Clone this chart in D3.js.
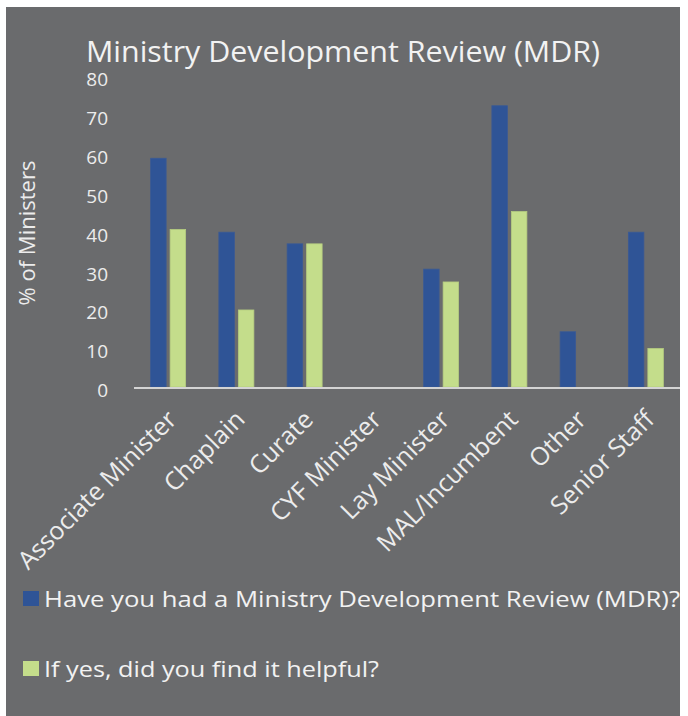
<!DOCTYPE html>
<html>
<head>
<meta charset="utf-8">
<script src="https://cdn.jsdelivr.net/npm/d3@7"></script>
<style>
  html, body { margin: 0; padding: 0; background: #ffffff; }
  svg { display: block; }
  text { font-family: "Open Sans", "Noto Sans", sans-serif; }
</style>
</head>
<body>
<div id="chart"></div>
<script>
const categories = ["Associate Minister", "Chaplain", "Curate", "CYF Minister", "Lay Minister", "MAL/Incumbent", "Other", "Senior Staff"];
const hadMDR = [58.8, 39.8, 36.8, 0, 30.3, 72.3, 14.2, 39.8];
const foundHelpful = [40.5, 19.8, 36.8, 0, 27.0, 45.1, 0, 9.9];
const seriesNames = ["Have you had a Ministry Development Review (MDR)?", "If yes, did you find it helpful?"];
const seriesColors = ["#2f5496", "#c4dd8b"];
const yTicks = [0, 10, 20, 30, 40, 50, 60, 70, 80];
const titleText = "Ministry Development Review (MDR)";
const yTitle = "% of Ministers";

const W = 688, H = 716;
const svg = d3.select("#chart").append("svg").attr("width", W).attr("height", H);

svg.append("rect").attr("x", 0).attr("y", 0).attr("width", W).attr("height", H).attr("fill", "#ffffff");
svg.append("rect").attr("x", 6).attr("y", 7).attr("width", 674).attr("height", H - 7).attr("fill", "#6a6b6d");

const x0 = d3.scaleBand().domain(categories).range([134, 680]).paddingInner(0).paddingOuter(0);
const bw = x0.bandwidth();
const x1 = d3.scaleBand().domain([0, 1]).range([bw / 2 - 17.5, bw / 2 + 17.5]).paddingInner(0.205).paddingOuter(0);
const y = d3.scaleLinear().domain([0, 80]).range([387, 387 - 80 * 3.89]);

// title
svg.append("text").attr("x", 86).attr("y", 62)
  .attr("fill", "#f2f2f2").attr("font-size", 30)
  .attr("textLength", 514).attr("lengthAdjust", "spacingAndGlyphs")
  .text(titleText);

// y axis labels
const yAxis = d3.axisLeft(y).tickValues(yTicks).tickSize(0).tickPadding(0);
const gy = svg.append("g").attr("transform", "translate(108,0)").call(yAxis);
gy.select(".domain").remove();
gy.selectAll("text").attr("fill", "#ececec").attr("font-size", 19)
  .attr("font-family", "'Open Sans', 'Noto Sans', sans-serif").attr("dy", "0.67em").attr("y", -3);

// y title
svg.append("text").attr("transform", "translate(35,233) rotate(-90)")
  .attr("text-anchor", "middle").attr("fill", "#ececec").attr("font-size", 22)
  .text(yTitle);

// bars
const data = categories.map((c, i) => ({ cat: c, vals: [hadMDR[i], foundHelpful[i]] }));
const groups = svg.append("g").selectAll("g").data(data).join("g")
  .attr("transform", d => `translate(${x0(d.cat)},0)`);
groups.selectAll("rect").data(d => d.vals.map((v, k) => ({ v, k })).filter(e => e.v > 0)).join("rect")
  .attr("x", d => x1(d.k))
  .attr("width", x1.bandwidth())
  .attr("y", d => y(d.v))
  .attr("height", d => y(0) - y(d.v))
  .attr("fill", d => seriesColors[d.k])
  .attr("stroke", d => d.k === 0 ? "#3a5a95" : "#b5cc80")
  .attr("stroke-width", 0.8);

// x axis line
svg.append("line").attr("x1", 134).attr("x2", 680).attr("y1", 388).attr("y2", 388)
  .attr("stroke", "#d4d4d4").attr("stroke-width", 2);

// x labels
const xAxis = d3.axisBottom(x0).tickSize(0).tickPadding(0);
const gx = svg.append("g").attr("transform", "translate(0,388)").call(xAxis);
gx.select(".domain").remove();
gx.selectAll(".tick text")
  .attr("fill", "#ececec").attr("font-size", 25)
  .attr("font-family", "'Open Sans', 'Noto Sans', sans-serif")
  .attr("text-anchor", "end")
  .attr("y", 0).attr("dy", 0)
  .attr("transform", "translate(10,33) rotate(-45)");

// legend
const leg = svg.append("g");
seriesNames.forEach((name, i) => {
  const yy = [591, 661][i];
  leg.append("rect").attr("x", 23).attr("y", yy).attr("width", 16).attr("height", 15).attr("fill", seriesColors[i]);
  leg.append("text").attr("x", 44).attr("y", yy + 16)
    .attr("fill", "#f2f2f2").attr("font-size", 22)
    .attr("textLength", i === 0 ? 636 : 335).attr("lengthAdjust", "spacingAndGlyphs")
    .text(name);
});
</script>
</body>
</html>
